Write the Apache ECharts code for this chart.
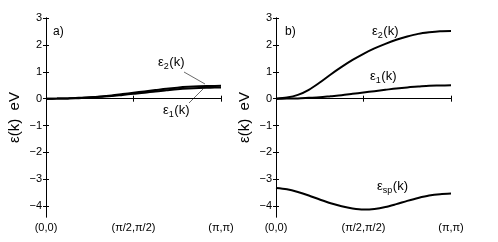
<!DOCTYPE html>
<html><head><meta charset="utf-8">
<script src="https://cdn.jsdelivr.net/npm/echarts@6/dist/echarts.min.js"></script>
<style>html,body{margin:0;padding:0;background:#fff}#c{width:498px;height:242px}</style>
</head><body><div id="c"></div>
<script>
// k-path sample positions (0 = (0,0), 8 = (π/2,π/2), 16 = (π,π))
const kPath = [0, 1, 2, 3, 4, 5, 6, 7, 8, 9, 10, 11, 12, 13, 14, 15, 16];
const xTickValues = [0, 8, 16];
const xTickLabels = ['(0,0)', '(π/2,π/2)', '(π,π)'];
const yTickValues = [-4, -3, -2, -1, 0, 1, 2, 3];
// panel a)
const epsA1 = [0, 0.003, 0.01, 0.02, 0.04, 0.07, 0.10, 0.14, 0.18, 0.22, 0.27, 0.31, 0.35, 0.38, 0.40, 0.41, 0.42];
const epsA2 = [0, 0.003, 0.01, 0.03, 0.05, 0.08, 0.12, 0.17, 0.22, 0.27, 0.32, 0.37, 0.41, 0.44, 0.46, 0.47, 0.48];
// panel b)
const epsB1 = [0, 0.003, 0.01, 0.03, 0.05, 0.09, 0.13, 0.18, 0.23, 0.28, 0.33, 0.38, 0.42, 0.45, 0.48, 0.49, 0.50];
const epsB2 = [0, 0.04, 0.14, 0.33, 0.60, 0.90, 1.18, 1.44, 1.67, 1.87, 2.04, 2.19, 2.31, 2.41, 2.47, 2.51, 2.52];
const epsBsp = [-3.32, -3.37, -3.47, -3.60, -3.75, -3.89, -4.00, -4.08, -4.12, -4.10, -4.03, -3.92, -3.80, -3.69, -3.60, -3.55, -3.53];

const FONT = '"Liberation Sans", Arial, sans-serif';
const yFmt = v => (v < 0 ? '\u2212' + Math.abs(v) : String(v));
const xFmt = v => xTickLabels[xTickValues.indexOf(v)] || '';

const grids = [
  { left: 46, top: 18, width: 175, height: 199 },
  { left: 276, top: 18, width: 175, height: 199 }
];

const xAxes = [], yAxes = [];
grids.forEach((g, i) => {
  const axLine = { show: true, lineStyle: { color: '#000', width: 1 } };
  xAxes.push({
    type: 'value', gridIndex: i, min: 0, max: 16, position: 'bottom',
    axisLine: axLine,
    axisTick: { inside: true, length: 3, customValues: xTickValues, lineStyle: { color: '#000' } },
    axisLabel: { customValues: xTickValues, formatter: xFmt, color: '#000', fontSize: 11, fontFamily: FONT, margin: 5 },
    splitLine: { show: false }
  });
  xAxes.push({
    type: 'value', gridIndex: i, min: 0, max: 16, position: 'top',
    axisLine: axLine,
    axisTick: { inside: true, length: 3, customValues: xTickValues, lineStyle: { color: '#000' } },
    axisLabel: { show: false },
    splitLine: { show: false }
  });
  yAxes.push({
    type: 'value', gridIndex: i, min: -4.4, max: 3, position: 'left',
    name: 'ε(k)  eV', nameLocation: 'middle', nameGap: 24,
    nameTextStyle: { fontSize: 15, fontFamily: FONT, color: '#000' },
    axisLine: axLine,
    axisTick: { inside: true, length: 3, customValues: yTickValues, lineStyle: { color: '#000' } },
    axisLabel: { customValues: yTickValues, formatter: yFmt, color: '#000', fontSize: 11, fontFamily: FONT, margin: 4 },
    splitLine: { show: false }
  });
  yAxes.push({
    type: 'value', gridIndex: i, min: -4.4, max: 3, position: 'right',
    axisLine: axLine,
    axisTick: { inside: true, length: 3, customValues: yTickValues, lineStyle: { color: '#000' } },
    axisLabel: { show: false },
    splitLine: { show: false }
  });
});

const pairs = arr => kPath.map((k, j) => [k, arr[j]]);
const line = (data, gi) => ({
  type: 'line', xAxisIndex: gi * 2, yAxisIndex: gi * 2, data: pairs(data),
  smooth: 0.3, showSymbol: false, symbol: 'none',
  lineStyle: { color: '#000', width: 2 }, silent: true
});

// text measure
const ctx = document.createElement('canvas').getContext('2d');
function tw(t, size) { ctx.font = size + 'px ' + FONT; return ctx.measureText(t).width; }
function epsLabel(x, yc, sub) {
  const w1 = tw('ε', 13), w2 = tw(sub, 9);
  const base = { fill: '#000', textVerticalAlign: 'middle', verticalAlign: 'middle', textAlign: 'left', align: 'left' };
  return [
    { type: 'text', x: x, y: yc, style: Object.assign({ text: 'ε', font: '13px ' + FONT }, base) },
    { type: 'text', x: x + w1, y: yc + 5, style: Object.assign({ text: sub, font: '9px ' + FONT }, base) },
    { type: 'text', x: x + w1 + w2 + 0.5, y: yc, style: Object.assign({ text: '(k)', font: '13px ' + FONT }, base) }
  ];
}
const plain = (x, yc, t) => ({ type: 'text', x: x, y: yc, style: { text: t, font: '12px ' + FONT, fill: '#000', textVerticalAlign: 'middle', verticalAlign: 'middle' } });

const graphics = [].concat(
  epsLabel(158, 62, '2'),
  epsLabel(163, 110, '1'),
  epsLabel(372, 31, '2'),
  epsLabel(370, 76, '1'),
  epsLabel(377, 186, 'sp'),
  [plain(53, 32, 'a)'), plain(285, 32, 'b)'),
   { type: 'line', shape: { x1: 184, y1: 72, x2: 205, y2: 84 }, style: { stroke: '#444', lineWidth: 0.8 } },
   { type: 'line', shape: { x1: 189, y1: 103, x2: 203, y2: 89 }, style: { stroke: '#444', lineWidth: 0.8 } }]
);

const chart = echarts.init(document.getElementById('c'), null, { renderer: 'canvas' });
chart.setOption({
  animation: false,
  backgroundColor: '#fff',
  grid: grids,
  xAxis: xAxes,
  yAxis: yAxes,
  series: [line(epsA1, 0), line(epsA2, 0), line(epsB1, 1), line(epsB2, 1), line(epsBsp, 1)],
  graphic: graphics
});
</script></body></html>
